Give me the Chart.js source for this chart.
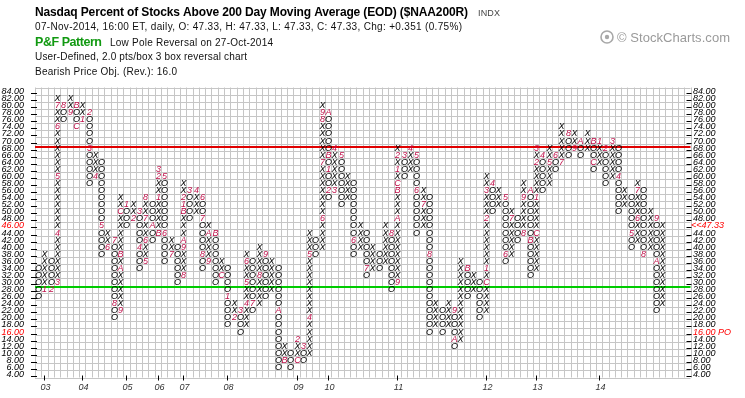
<!DOCTYPE html>
<html><head><meta charset="utf-8">
<script src="https://cdn.jsdelivr.net/npm/chart.js@4.4.1/dist/chart.umd.min.js"></script>
<style>
html,body{margin:0;padding:0;background:#fff;width:745px;height:398px;overflow:hidden;}
canvas{display:block;}
</style></head><body>
<canvas id="c" width="745" height="398"></canvas>
<script>
// ---- data (P&F columns, 2.0 pts/box, 3 box reversal), columns 1..100 ----
const colType = ['O','X','O','X','O','X','O','X','O','X', 'O','X','O','X','O','X','O','X','O','X',
                 'O','X','O','X','O','X','O','X','O','X', 'O','X','O','X','O','X','O','X','O','X',
                 'O','X','O','X','O','X','O','X','O','X', 'O','X','O','X','O','X','O','X','O','X',
                 'O','X','O','X','O','X','O','X','O','X', 'O','X','O','X','O','X','O','X','O','X',
                 'O','X','O','X','O','X','O','X','O','X', 'O','X','O','X','O','X','O','X','O','X'];
const colLow  = [26,28,28,30,76,78,74,76,58,60, 38,40,20,22,46,48,34,36,42,44,
                 36,38,30,32,48,50,34,36,30,32, 18,20,16,18,22,24,26,28, 6, 8,
                  6, 8, 8,10,38,40,54,56,52,54, 38,40,32,34,34,36,28,30,60,62,
                 44,46,16,18,16,18,12,14,26,28, 20,22,50,52,36,38,42,44,32,34,
                 56,58,62,64,66,68,66,68,62,64, 58,60,50,52,40,42,38,40,22,24];
const colHigh = [34,38,36,82,80,82,80,80,78,66, 64,44,42,54,52,52,50,54,52,62,
                 60,42,40,58,56,56,54,46,44,36, 34,24,22,38,36,40,38,36,34,12,
                 10,14,12,44,42,80,78,68,66,60, 58,46,44,40,38,46,44,68,66,68,
                 66,56,54,24,22,24,22,36,34,32, 30,60,58,56,54,50,48,58,56,68,
                 66,68,66,74,72,72,70,72,70,70, 68,70,68,56,54,58,56,50,48,46];
// month markers (1-9, A, B, C) : column, box value, character
const mkCol  = [2,3,4,4,4,4,4,5,6,7,7,8,9,9,10,11,12,13,13,14,14,14,14,15,16,17,17,18,18,18,18,19,20,20,20,20,21,21,22,
                24,24,24,24,24,24,25,26,27,27,27,28,28,29,30,31,32,33,34,34,34,35,36,37,39,40,42,42,43,44,44,
                46,46,46,46,47,47,47,47,48,48,49,51,53,57,58,58,58,58,58,58,59,60,61,61,62,63,67,67,69,
                72,72,72,72,73,75,75,76,78,78,79,79,80,80,80,80,81,82,83,84,85,86,87,89,89,90,91,92,93,95,96,96,97,99,99];
const mkVal  = [28,28,30,44,60,74,80,80,78,80,74,76,78,68,60,46,40,42,24,22,34,38,50,52,48,50,40,36,42,48,54,46,44,54,60,62,60,44,38,
                32,40,42,50,52,54,56,56,54,48,38,36,44,44,32,26,20,22,24,30,36,24,32,38,22, 8, 8,14,12,20,38,
                48,64,76,78,78,66,62,56,56,68,66,42,34,44,30,48,56,58,62,66,66,68,66,56,52,38,22,14,34,
                30,34,48,56,58,54,38,48,44,54,56,42,44,54,64,68,66,64,66,64,72,68,70,70,64,70,68,70,60,44,48,56,38,48,36];
const mkChar = ['1','2','3','4','5','6','7','8','9','B','C','1','2','3','4','5','6','7','8','9','A','B','C','1','2','3','4','5','6','7','8','A','B','1','2','3','5','6','7',
                '8','9','A','B','1','2','3','4','6','7','8','9','A','B','C','1','2','3','4','5','6','7','8','9','A','B','C','2','3','4','5',
                '6','7','8','9','A','B','1','2','3','4','5','6','7','8','9','A','B','C','1','2','3','4','5','6','7','8','9','A','B',
                'C','1','2','3','4','5','6','7','8','9','A','B','C','1','2','3','4','5','6','7','8','9','A','B','C','1','2','3','4','5','6','7','8','9','A'];
const yearCols   = [2,8,15,20,24,31,42,47,58,72,80,90];
const yearLabels = ['03','04','05','06','07','08','09','10','11','12','13','14'];
const rowMin = 4, rowMax = 84, boxSize = 2, nCols = 104;
const resistLevel = 68.5, supportLevel = 28.75;
const lastValue = 47.33, lastRow = 46, objective = 16;

const MARK = '#c0104a';
function build(){
const pts = [];
for (let i = 0; i < colType.length; i++){
  const col = i + 1;
  for (let v = colLow[i]; v <= colHigh[i]; v += boxSize){
    let ch = colType[i], mk = false;
    for (let k = 0; k < mkCol.length; k++) if (mkCol[k] === col && mkVal[k] === v){ ch = mkChar[k]; mk = true; }
    pts.push({x: col, y: v, ch: ch, mk: mk});
  }
}
const rowTicks = []; for (let v = rowMin; v <= rowMax; v += boxSize) rowTicks.push(v);
const F = '"Liberation Sans", Arial, sans-serif';

const deco = {
  id: 'deco',
  beforeDatasetsDraw(chart){
    const {ctx, chartArea: a, scales: {x, y}} = chart;
    ctx.save();
    ctx.strokeStyle = '#c6c6c6'; ctx.lineWidth = 1;
    ctx.beginPath();
    for (let c = 0; c <= nCols; c++){ const px = Math.round(x.getPixelForValue(c + 0.5)) + 0.5; ctx.moveTo(px, a.top); ctx.lineTo(px, a.bottom); }
    for (let v = rowMin - 1; v <= rowMax + 1; v += boxSize){ const py = Math.round(y.getPixelForValue(v)) + 0.5; ctx.moveTo(a.left, py); ctx.lineTo(a.right, py); }
    ctx.stroke();
    ctx.lineWidth = 2;
    ctx.strokeStyle = '#e00000';
    let py = Math.round(y.getPixelForValue(resistLevel)) + 1;
    ctx.beginPath(); ctx.moveTo(a.left, py); ctx.lineTo(a.right, py); ctx.stroke();
    ctx.strokeStyle = '#00cc00';
    py = Math.round(y.getPixelForValue(supportLevel)) + 1;
    ctx.beginPath(); ctx.moveTo(a.left, py); ctx.lineTo(a.right, py); ctx.stroke();
    ctx.strokeStyle = '#000'; ctx.lineWidth = 1;
    ctx.beginPath();
    rowTicks.forEach(v => {
      const yy = Math.round(y.getPixelForValue(v)) + 2.5;
      ctx.moveTo(a.left - 4, yy); ctx.lineTo(a.left + 2, yy);
      ctx.moveTo(a.right - 4, yy); ctx.lineTo(a.right + 1, yy);
    });
    yearCols.forEach(c => {
      const xx = Math.round(x.getPixelForValue(c)) + 0.5;
      ctx.moveTo(xx, a.bottom - 2); ctx.lineTo(xx, a.bottom + 3);
    });
    ctx.stroke();
    ctx.font = 'italic 9px ' + F; ctx.textBaseline = 'alphabetic';
    rowTicks.forEach(v => {
      const yy = Math.round(y.getPixelForValue(v)) + 3;
      const red = (v === lastRow || v === objective);
      ctx.fillStyle = red ? '#ff0000' : '#000';
      ctx.textAlign = 'right';
      ctx.fillText(v.toFixed(2), 24, yy);
      ctx.textAlign = 'left';
      const s = v === lastRow ? '<<' + lastValue.toFixed(2) : (v === objective ? v.toFixed(2) + ' PO' : v.toFixed(2));
      ctx.fillText(s, v === lastRow ? 691 : 693, yy);
    });
    // year labels on the column where each year starts
    ctx.fillStyle = '#333'; ctx.textAlign = 'center';
    yearCols.forEach((c, k) => {
      ctx.fillText(yearLabels[k], Math.round(x.getPixelForValue(c)) + 1.5, a.bottom + 12);
    });
    ctx.restore();
  },
  afterDatasetsDraw(chart){
    const ctx = chart.ctx, meta = chart.getDatasetMeta(0);
    ctx.save();
    ctx.font = 'italic 9px ' + F; ctx.textAlign = 'center'; ctx.textBaseline = 'alphabetic';
    meta.data.forEach((el, i) => {
      const p = pts[i];
      ctx.fillStyle = p.mk ? MARK : '#000';
      ctx.fillText(p.ch, Math.round(el.x) + 0.5, Math.round(el.y) + 3);
    });
    ctx.restore();
  },
  afterDraw(chart){
    const ctx = chart.ctx;
    ctx.save();
    function txt(s, x, yb, font, color, width){
      ctx.font = font; ctx.fillStyle = color; ctx.textAlign = 'left'; ctx.textBaseline = 'alphabetic';
      if (width){
        const w0 = ctx.measureText(s).width;
        if ('letterSpacing' in ctx){ ctx.letterSpacing = ((width - w0) / (s.length - 1)) + 'px'; ctx.fillText(s, x, yb); ctx.letterSpacing = '0px'; }
        else { ctx.save(); ctx.translate(x, yb); ctx.scale(width / w0, 1); ctx.fillText(s, 0, 0); ctx.restore(); }
      } else ctx.fillText(s, x, yb);
    }
    txt('Nasdaq Percent of Stocks Above 200 Day Moving Average (EOD) ($NAA200R)', 35, 16, 'bold 12px ' + F, '#000', 433);
    txt('INDX', 478, 16, '9px ' + F, '#444', 22);
    txt('07-Nov-2014, 16:00 ET, daily, O: 47.33, H: 47.33, L: 47.33, C: 47.33, Chg: +0.351 (0.75%)', 35, 30, '10px ' + F, '#111', 427);
    txt('P&F Pattern', 35, 45.5, 'bold 12.5px ' + F, '#119911', 67);
    txt('Low Pole Reversal on 27-Oct-2014', 110, 45.5, '10px ' + F, '#111', 163);
    txt('User-Defined, 2.0 pts/box 3 box reversal chart', 35, 60, '10px ' + F, '#111', 212);
    txt('Bearish Price Obj. (Rev.): 16.0', 35, 75, '10px ' + F, '#111', 142);
    ctx.strokeStyle = '#a8a8a8'; ctx.lineWidth = 1.6;
    ctx.beginPath(); ctx.arc(607, 37, 6, 0, Math.PI * 2); ctx.stroke();
    ctx.fillStyle = '#a8a8a8';
    ctx.beginPath(); ctx.arc(607, 37, 2.2, 0, Math.PI * 2); ctx.fill();
    txt('\u00a9 StockCharts.com', 617, 42, '13px ' + F, '#9a9a9a', 113);
    ctx.restore();
  }
};

new Chart(document.getElementById('c'), {
  type: 'scatter',
  data: { datasets: [{ data: pts, pointRadius: 0, pointHoverRadius: 0, showLine: false }]},
  options: {
    responsive: false, animation: false, devicePixelRatio: 1,
    events: [],
    layout: {padding: {top: 87.5, left: 0, right: 0, bottom: 0}},
    plugins: {legend: {display: false}, tooltip: {enabled: false}},
    scales: {
      x: {
        type: 'linear', min: 0.5, max: nCols + 0.5,
        grid: {display: false}, border: {display: false},
        afterBuildTicks: s => { s.ticks = yearCols.map(v => ({value: v})); },
        afterFit: s => { s.height = 20.5; },
        ticks: {display: false}
      },
      y: {
        type: 'linear', position: 'left', min: rowMin - 1, max: rowMax + 1,
        grid: {display: false}, border: {display: false},
        afterBuildTicks: s => { s.ticks = rowTicks.map(v => ({value: v})); },
        afterFit: s => { s.width = 35; },
        ticks: {display: false}
      },
      y2: {
        type: 'linear', position: 'right', min: rowMin - 1, max: rowMax + 1,
        grid: {display: false}, border: {display: false},
        afterFit: s => { s.width = 54.5; },
        ticks: {display: false}
      }
    }
  },
  plugins: [deco]
});
}
const fontsReady = document.fonts && document.fonts.load ? Promise.all([
  document.fonts.load('italic 9px "Liberation Sans"'), document.fonts.load('bold 12px "Liberation Sans"'), document.fonts.load('10px "Liberation Sans"')
]).catch(()=>{}) : Promise.resolve();
fontsReady.then(build, build);
</script>
</body></html>
